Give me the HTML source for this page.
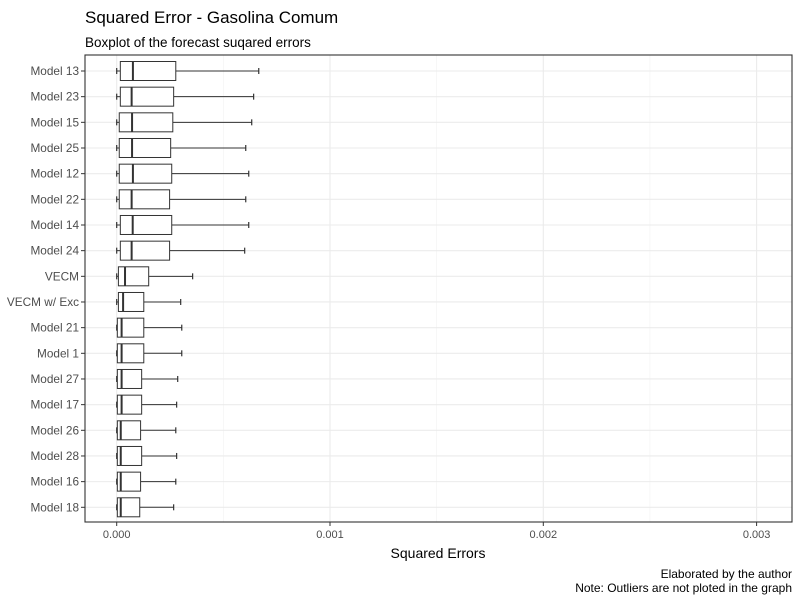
<!DOCTYPE html>
<html><head><meta charset="utf-8"><style>
body{margin:0;background:#fff;font-family:"Liberation Sans",Arial,sans-serif}
svg text{font-family:"Liberation Sans",Arial,sans-serif}
</style></head><body>
<svg id="chart" width="800" height="600" xmlns="http://www.w3.org/2000/svg">
<rect width="800" height="600" fill="#fff"/>
<text x="85" y="23" font-size="17" fill="#000">Squared Error - Gasolina Comum</text>
<text x="85" y="47" font-size="13.5" fill="#000">Boxplot of the forecast suqared errors</text>
<g id="grid"></g>
<g id="boxes"></g>
<rect x="85" y="55" width="707" height="467" fill="none" stroke="#333" stroke-width="1.1"/>
<g id="axes"></g>
<text x="438" y="558" font-size="14" text-anchor="middle" fill="#000">Squared Errors</text>
<text x="792" y="578" font-size="12" text-anchor="end" fill="#000">Elaborated by the author</text>
<text x="792" y="592" font-size="12" text-anchor="end" fill="#000">Note: Outliers are not ploted in the graph</text>
</svg>
<script>
const categories=["Model 13","Model 23","Model 15","Model 25","Model 12","Model 22","Model 14","Model 24","VECM","VECM w/ Exc","Model 21","Model 1","Model 27","Model 17","Model 26","Model 28","Model 16","Model 18"];
const minVals=[0,0,0,0,0,0,0,0,0,0,0,0,0,0,0,0,0,0];
const q1Vals=[17e-6,17e-6,12e-6,12e-6,12e-6,12e-6,17e-6,17e-6,8e-6,8e-6,3e-6,3e-6,3e-6,3e-6,3e-6,3e-6,3e-6,3e-6];
const medianVals=[76e-6,70e-6,72e-6,72e-6,76e-6,70e-6,75e-6,70e-6,39e-6,30e-6,23e-6,23e-6,23e-6,23e-6,19e-6,19e-6,19e-6,19e-6];
const q3Vals=[277e-6,267e-6,263e-6,253e-6,258e-6,248e-6,258e-6,248e-6,150e-6,127e-6,127e-6,127e-6,117e-6,117e-6,112e-6,117e-6,112e-6,108e-6];
const maxVals=[666e-6,642e-6,633e-6,605e-6,619e-6,605e-6,619e-6,600e-6,356e-6,300e-6,305e-6,305e-6,286e-6,281e-6,277e-6,281e-6,277e-6,267e-6];
const xTicks=[0,0.001,0.002,0.003];
const xTickLabels=["0.000","0.001","0.002","0.003"];
const xMinor=[0.0005,0.0015,0.0025];

const NS="http://www.w3.org/2000/svg";
const x=v=>116.7+v*213300;
const y=i=>71+i*(507.3-71)/(categories.length-1);
function mk(tag,attrs,parent){const e=document.createElementNS(NS,tag);for(const k in attrs)e.setAttribute(k,attrs[k]);parent.appendChild(e);return e;}
const grid=document.getElementById('grid'),boxes=document.getElementById('boxes'),axes=document.getElementById('axes');
xMinor.forEach(v=>{const l=mk('line',{x1:x(v),x2:x(v),y1:55,y2:522,stroke:'#f2f2f2','stroke-width':0.6},grid);

});
xTicks.forEach((v,i)=>{const l=mk('line',{x1:x(v),x2:x(v),y1:55,y2:522,stroke:'#ebebeb','stroke-width':1.1},grid);


const t=mk('line',{x1:x(v),x2:x(v),y1:522,y2:526,stroke:'#333','stroke-width':1},axes);


const tx=mk('text',{x:x(v),y:538,'font-size':11,'text-anchor':'middle',fill:'#4d4d4d'},axes);tx.textContent=xTickLabels[i];

});
categories.forEach((c,i)=>{const yy=y(i);
const g=mk('line',{x1:85,x2:792,y1:yy,y2:yy,stroke:'#ebebeb','stroke-width':1.1},grid);


const t=mk('line',{x1:81,x2:85,y1:yy,y2:yy,stroke:'#333','stroke-width':1},axes);


const tx=mk('text',{x:79,y:yy+4,'font-size':11.8,'text-anchor':'end',fill:'#4d4d4d'},axes);tx.textContent=c;


const bg=mk('g',{},boxes);


mk('line',{x1:x(q3Vals[i]),x2:x(maxVals[i]),y1:yy,y2:yy,stroke:'#333','stroke-width':1},bg);
mk('line',{x1:x(minVals[i]),x2:x(q1Vals[i]),y1:yy,y2:yy,stroke:'#333','stroke-width':1},bg);
mk('line',{x1:x(maxVals[i]),x2:x(maxVals[i]),y1:yy-3,y2:yy+3,stroke:'#333','stroke-width':1.2},bg);
mk('line',{x1:x(minVals[i]),x2:x(minVals[i]),y1:yy-3,y2:yy+3,stroke:'#333','stroke-width':1.2},bg);
mk('rect',{x:x(q1Vals[i]),y:yy-9.5,width:x(q3Vals[i])-x(q1Vals[i]),height:19,fill:'#fff',stroke:'#333','stroke-width':1},bg);
mk('line',{x1:x(medianVals[i]),x2:x(medianVals[i]),y1:yy-9.5,y2:yy+9.5,stroke:'#333','stroke-width':2},bg);
});
</script>
</body></html>
